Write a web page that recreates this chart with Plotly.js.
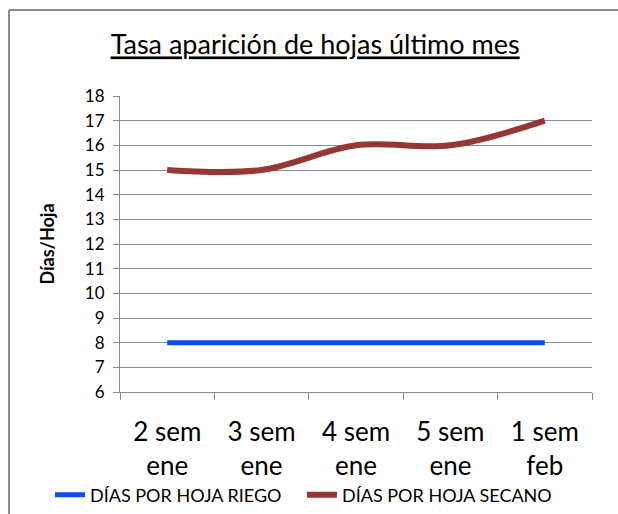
<!DOCTYPE html>
<html>
<head>
<meta charset="utf-8">
<script src="https://cdn.plot.ly/plotly-3.0.1.min.js"></script>
<style>
html,body{margin:0;padding:0;background:#fff;}
#chart{width:618px;height:514px;}
</style>
</head>
<body>
<div id="chart"></div>
<script>
const categories = ["2 sem<br>ene", "3 sem<br>ene", "4 sem<br>ene", "5 sem<br>ene", "1 sem<br>feb"];
const riego = [8, 8, 8, 8, 8];
const secano = [15, 15, 16, 16, 17];
const seriesNames = ["DÍAS POR HOJA RIEGO", "DÍAS POR HOJA SECANO"];
const yTicks = [6, 7, 8, 9, 10, 11, 12, 13, 14, 15, 16, 17, 18];

const FONT = "Lato, 'Open Sans', sans-serif";
const GRID = "#8c8c8c";

const traces = [
  {x: categories, y: riego, name: seriesNames[0], type: "scatter", mode: "lines",
   line: {color: "#0a4ef7", width: 5, shape: "spline", smoothing: 1}},
  {x: categories, y: secano, name: seriesNames[1], type: "scatter", mode: "lines",
   line: {color: "#953735", width: 6, shape: "spline", smoothing: 1}}
];

const L = 120, R = 592, T = 96, B = 392;
const pw = R - L, ph = B - T;
const px = v => (v - L) / pw;
const py = v => (B - v) / ph;

const layout = {
  width: 618, height: 514,
  margin: {l: L, r: 618 - R, t: T, b: 514 - B, autoexpand: false},
  paper_bgcolor: "#fff", plot_bgcolor: "#fff",
  font: {family: FONT, color: "#000"},
  showlegend: true,
  title: {text: "<u>Tasa aparición de hojas último mes</u>", font: {family: FONT, size: 27, color: "#000"},
          x: 0.51, xanchor: "center", y: 1 - 45 / 514, yanchor: "middle"},
  xaxis: {type: "category", range: [-0.5, 4.5], autorange: false, automargin: false,
          showgrid: false, showline: true, linecolor: GRID, linewidth: 1,
          ticks: "outside", tickson: "boundaries", ticklen: 7, tickcolor: GRID,
          tickfont: {family: FONT, size: 26, color: "#000"}, fixedrange: true, ticklabelstandoff: 17},
  yaxis: {range: [6, 18], autorange: false, automargin: false, tickvals: yTicks, ticktext: yTicks.map(String),
          showgrid: true, gridcolor: GRID,
          gridwidth: 1, showline: true, linecolor: GRID, linewidth: 1, zeroline: false,
          ticks: "outside", ticklen: 6, tickcolor: GRID, ticklabelstandoff: 5,
          tickfont: {family: FONT, size: 17, color: "#000"}, fixedrange: true,
          title: {text: "<b>Días/Hoja</b>", font: {family: FONT, size: 18, color: "#000"}, standoff: 25}},
  legend: {orientation: "h", x: px(50), xanchor: "left", y: py(495), yanchor: "middle",
           font: {family: FONT, size: 18, color: "#000"}, bgcolor: "rgba(0,0,0,0)",
           entrywidth: 207, entrywidthmode: "pixels"},
  shapes: [
    {type: "line", xref: "paper", yref: "paper", x0: px(9), x1: px(9), y0: py(10), y1: py(520),
     line: {color: "#8a8a8a", width: 2}},
    {type: "line", xref: "paper", yref: "paper", x0: px(9), x1: px(630), y0: py(10), y1: py(10),
     line: {color: "#8a8a8a", width: 2}}
  ]
};

Plotly.newPlot("chart", traces, layout, {displayModeBar: false, staticPlot: true});
</script>
</body>
</html>
